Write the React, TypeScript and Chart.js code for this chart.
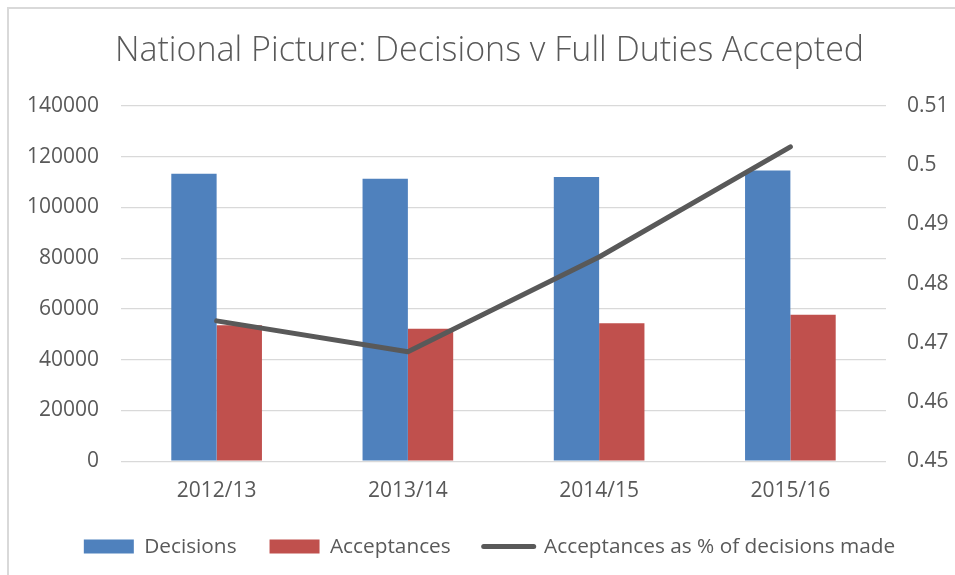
import { useEffect, useRef } from 'react';
import { Chart, registerables } from 'chart.js';

Chart.register(...registerables);

const chartTitle = 'National Picture: Decisions v Full Duties Accepted';
const categories = ['2012/13', '2013/14', '2014/15', '2015/16'];
const decisions = [113300, 111300, 112000, 114600];
const acceptances = [53600, 52200, 54400, 57700];
const acceptanceRate = [0.4737, 0.4685, 0.4845, 0.5031];
const seriesLabels = ['Decisions', 'Acceptances', 'Acceptances as % of decisions made'];
const leftAxisRange = [0, 140000];
const leftAxisStep = 20000;
const rightAxisRange = [0.45, 0.51];
const rightAxisStep = 0.01;

const FONT = "'Open Sans', 'DejaVu Sans', sans-serif";
const TEXT = '#595959';
const GRID = '#d9d9d9';

export default function App() {
  const ref = useRef<HTMLCanvasElement>(null);

  useEffect(() => {
    if (!ref.current) return;
    document.documentElement.style.overflow = 'hidden';
    document.body.style.overflow = 'hidden';
    Chart.defaults.font.family = FONT;
    Chart.defaults.color = TEXT;
    const chart = new Chart(ref.current, {
      type: 'bar',
      data: {
        labels: categories,
        datasets: [
          {
            type: 'bar',
            label: seriesLabels[0],
            data: decisions,
            backgroundColor: '#4F81BD',
            borderWidth: 0,
            yAxisID: 'y',
            order: 1,
            categoryPercentage: 0.474,
            barPercentage: 1,
          },
          {
            type: 'bar',
            label: seriesLabels[1],
            data: acceptances,
            backgroundColor: '#C0504D',
            borderWidth: 0,
            yAxisID: 'y',
            order: 1,
            categoryPercentage: 0.474,
            barPercentage: 1,
          },
          {
            type: 'line',
            label: seriesLabels[2],
            data: acceptanceRate,
            borderColor: '#595959',
            backgroundColor: '#595959',
            borderWidth: 5,
            pointRadius: 0,
            pointStyle: 'line',
            borderCapStyle: 'round',
            borderJoinStyle: 'round',
            tension: 0,
            yAxisID: 'y1',
            order: 0,
          },
        ],
      } as any,
      options: {
        responsive: false,
        animation: false,
        devicePixelRatio: 1,
        layout: { padding: 0 },
        plugins: {
          title: {
            display: true,
            text: chartTitle,
            color: TEXT,
            font: { family: FONT, size: 34, weight: '300' as any, lineHeight: 1.2 },
            padding: { top: 22.1, bottom: 34.1 },
          },
          legend: {
            position: 'bottom',
            labels: {
              usePointStyle: true,
              pointStyleWidth: 50,
              boxHeight: 14,
              padding: 33,
              color: TEXT,
              font: { family: FONT, size: 20.8 },
              sort: (a: any, b: any) => a.datasetIndex - b.datasetIndex,
              generateLabels: (c: any) => {
                const items = (Chart.defaults.plugins.legend.labels as any).generateLabels(c);
                return items.map((it: any) => ({
                  ...it,
                  pointStyle: it.datasetIndex === 2 ? 'line' : 'rect',
                  lineCap: it.datasetIndex === 2 ? 'round' : 'butt',
                }));
              },
            },
          },
          tooltip: { enabled: false },
        },
        scales: {
          x: {
            grid: { display: false, drawTicks: false },
            border: { display: false },
            ticks: { padding: 17, color: TEXT, font: { family: FONT, size: 21 } },
            afterFit: (s: any) => {
              s.height = 42;
            },
          },
          y: {
            position: 'left',
            min: leftAxisRange[0],
            max: leftAxisRange[1],
            ticks: {
              stepSize: leftAxisStep,
              padding: 22,
              color: TEXT,
              font: { family: FONT, size: 21 },
              callback: (v: any) => String(v),
            },
            grid: { color: GRID, lineWidth: 1.3, drawTicks: false },
            border: { display: false },
            afterFit: (s: any) => {
              s.width = 112;
            },
          },
          y1: {
            position: 'right',
            min: rightAxisRange[0],
            max: rightAxisRange[1],
            ticks: {
              stepSize: rightAxisStep,
              padding: 21,
              color: TEXT,
              font: { family: FONT, size: 21 },
              callback: (v: any) => String(Number(Number(v).toFixed(2))),
            },
            grid: { display: false, drawTicks: false },
            border: { display: false },
            afterFit: (s: any) => {
              s.width = 84;
            },
          },
        },
      } as any,
    });
    return () => chart.destroy();
  }, []);

  return (
    <div
      style={{
        position: 'fixed',
        left: 0,
        top: 0,
        width: 955,
        height: 575,
        overflow: 'hidden',
        background: '#fff',
      }}
    >
      <div
        style={{
          position: 'absolute',
          left: 7,
          top: 7,
          width: 961,
          height: 600,
          border: '2px solid #d9d9d9',
          background: '#fff',
        }}
      >
        <canvas ref={ref} width={961} height={558} style={{ display: 'block', width: 961, height: 558 }} />
      </div>
    </div>
  );
}
